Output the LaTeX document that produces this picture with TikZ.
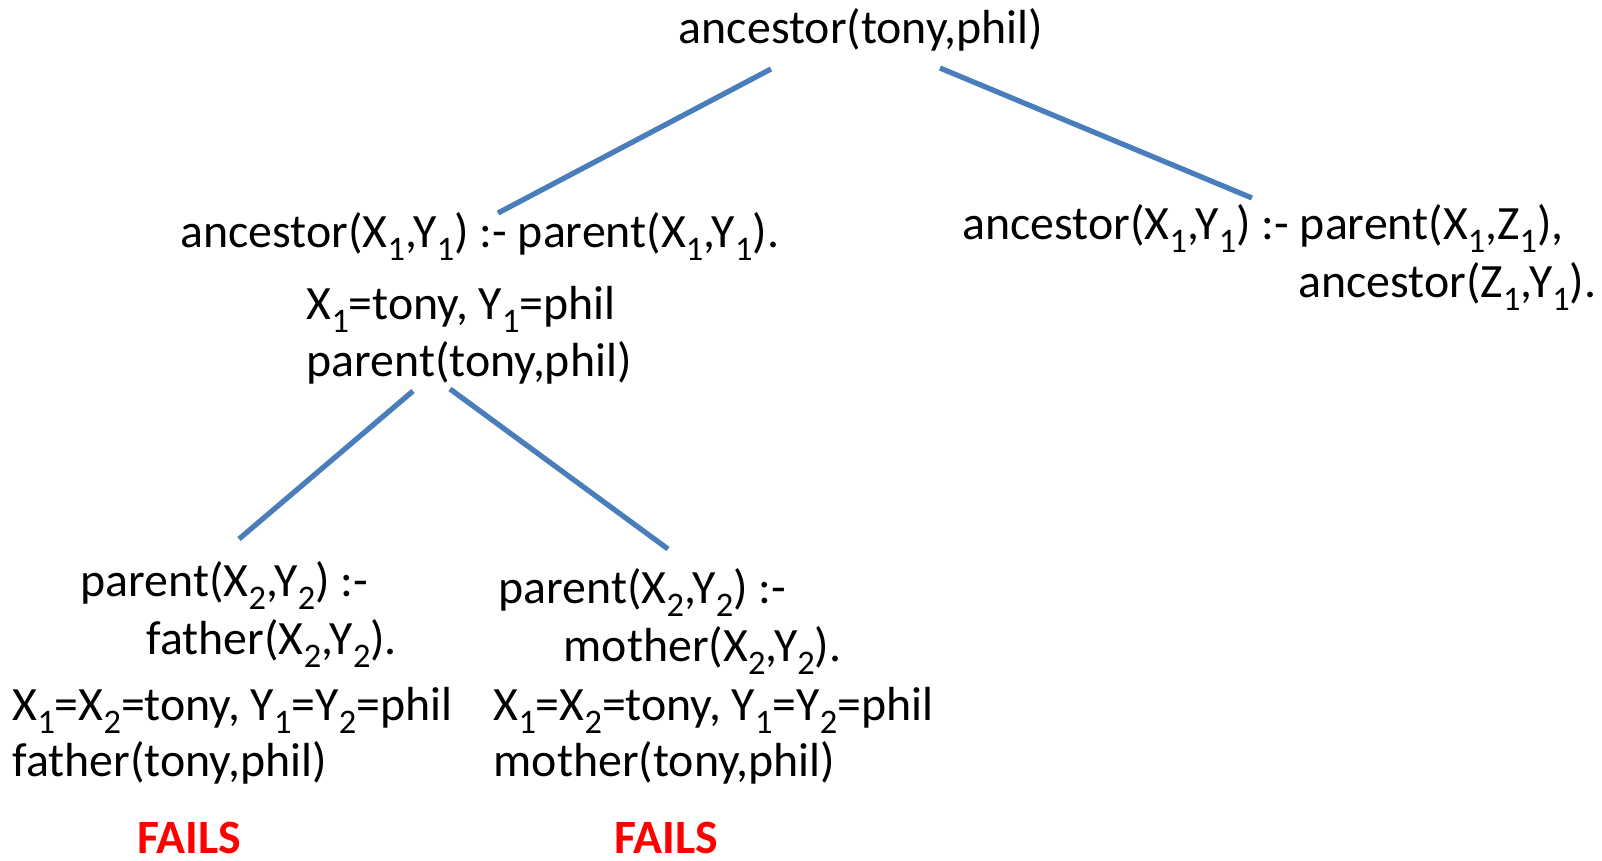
\documentclass[tikz,border=0pt]{standalone}
\usepackage{fontspec}
\setmainfont{Carlito}
\usepackage{xcolor}
\usetikzlibrary{positioning}

\definecolor{branchblue}{HTML}{4A7EBB}
\definecolor{failred}{HTML}{FF0000}

% subscript index on variables
\newcommand{\ix}[1]{\raisebox{-.28em}{\scalebox{.72}{#1}}}

\tikzset{
    term/.style={font=\fontsize{13.6pt}{16pt}\selectfont, inner sep=0pt, anchor=base west},
    fails/.style={term, anchor=base, font=\fontsize{13.6pt}{16pt}\selectfont\bfseries, text=failred},
    branch/.style={draw=branchblue, line width=1.5pt}
}

\begin{document}
\begin{tikzpicture}[x=0.01cm, y=-0.01cm]
    \useasboundingbox (0, 0) rectangle (1602, 860);

    % goal
    \node[term, anchor=base] (root) at (861, 43) {ancestor(tony,phil)};

    % first clause
    \node[term] (c1head) at (180, 247) {ancestor(X\ix{1},Y\ix{1}) :- parent(X\ix{1},Y\ix{1}).};
    \node[term] (c1unif) at (306, 319) {X\ix{1}=tony, Y\ix{1}=phil};
    \node[term] (c1goal) at (306, 376) {parent(tony,phil)};

    % second clause
    \node[term] (c2head) at (962, 239) {ancestor(X\ix{1},Y\ix{1}) :- parent(X\ix{1},Z\ix{1}),};
    \node[term, anchor=base east] (c2body) at (1597, 297) {ancestor(Z\ix{1},Y\ix{1}).};

    % father branch
    \node[term] (fhead) at (80, 596) {parent(X\ix{2},Y\ix{2}) :-};
    \node[term] (fbody) at (146, 654) {father(X\ix{2},Y\ix{2}).};
    \node[term] (funif) at (12, 720) {X\ix{1}=X\ix{2}=tony, Y\ix{1}=Y\ix{2}=phil};
    \node[term] (fgoal) at (12, 776) {father(tony,phil)};
    \node[fails] (ffail) at (189, 853) {FAILS};

    % mother branch
    \node[term] (mhead) at (498, 603) {parent(X\ix{2},Y\ix{2}) :-};
    \node[term] (mbody) at (563, 661) {mother(X\ix{2},Y\ix{2}).};
    \node[term] (munif) at (493, 720) {X\ix{1}=X\ix{2}=tony, Y\ix{1}=Y\ix{2}=phil};
    \node[term] (mgoal) at (493, 776) {mother(tony,phil)};
    \node[fails] (mfail) at (666, 853) {FAILS};

    % branch ends
    \coordinate (root-l) at (771, 69);
    \coordinate (root-r) at (940, 68);
    \coordinate (c1-top) at (498, 213);
    \coordinate (c2-top) at (1252, 198);
    \coordinate (goal-l) at (413, 391);
    \coordinate (goal-r) at (450, 389);
    \coordinate (f-top) at (239, 539);
    \coordinate (m-top) at (668, 549);

    \draw[branch]
    (root-l) -- (c1-top)
    (root-r) -- (c2-top)
    (goal-l) -- (f-top)
    (goal-r) -- (m-top);
\end{tikzpicture}
\end{document}
